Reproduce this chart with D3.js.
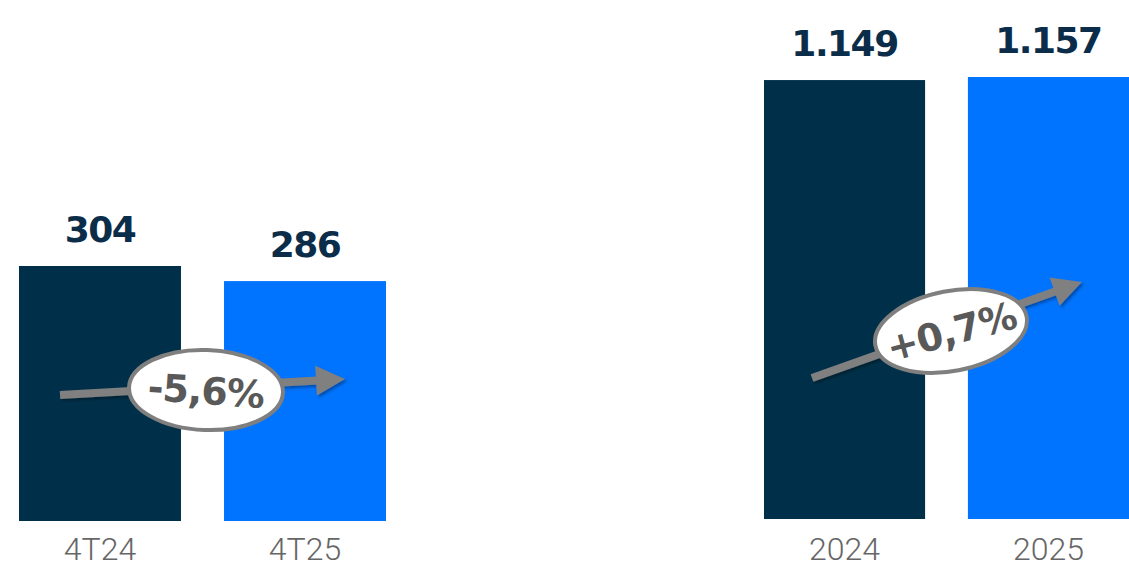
<!DOCTYPE html>
<html>
<head>
<meta charset="utf-8">
<script src="https://cdn.jsdelivr.net/npm/d3@7"></script>
<style>
  body { margin: 0; background: #fff; }
  svg { display: block; }
</style>
</head>
<body>
<div id="chart"></div>
<script>
// data
var quarterCats = ["4T24", "4T25"];
var quarterValues = [304, 286];
var quarterLabels = ["304", "286"];

var yearCats = ["2024", "2025"];
var yearValues = [1149, 1157];
var yearLabels = ["1.149", "1.157"];

var changeLabels = ["-5,6%", "+0,7%"];

var barColors = ["#003049", "#0073ff"];

var svgWidth = 1129;
var svgHeight = 569;

var svg = d3.select("#chart")
  .append("svg")
  .attr("width", svgWidth)
  .attr("height", svgHeight);

var defs = svg.append("defs");
defs.append("filter")
  .attr("id", "shadow")
  .attr("x", "-20%").attr("y", "-50%")
  .attr("width", "140%").attr("height", "200%")
  .append("feDropShadow")
  .attr("dx", 2).attr("dy", 2)
  .attr("stdDeviation", 1.5)
  .attr("flood-color", "#000")
  .attr("flood-opacity", 0.35);

// each panel gets its own scales
function drawPanel(cats, values, labels, xRange, base, top) {
  var x = d3.scaleBand()
    .domain(cats)
    .range(xRange)
    .paddingInner(0.21)
    .paddingOuter(0);

  var y = d3.scaleLinear()
    .domain([0, d3.max(values)])
    .range([base, top]);

  var g = svg.append("g");

  g.selectAll("rect")
    .data(values)
    .enter()
    .append("rect")
    .attr("x", (d, i) => x(cats[i]))
    .attr("y", d => y(d))
    .attr("width", x.bandwidth())
    .attr("height", d => base - y(d))
    .attr("fill", (d, i) => barColors[i]);

  // value labels
  g.selectAll(".val")
    .data(values)
    .enter()
    .append("text")
    .attr("class", "val")
    .attr("x", (d, i) => x(cats[i]) + x.bandwidth() / 2)
    .attr("y", d => y(d) - 24)
    .attr("text-anchor", "middle")
    .attr("font-family", "DejaVu Sans, sans-serif")
    .attr("font-weight", "bold")
    .attr("font-size", "36px")
    .attr("letter-spacing", "-1.5px")
    .attr("fill", "#0b2d4a")
    .text((d, i) => labels[i]);

  // category labels
  var xAxis = d3.axisBottom(x).tickSize(0).tickPadding(0);
  var axisG = g.append("g")
    .attr("transform", "translate(0," + 534 + ")")
    .call(xAxis);
  axisG.select(".domain").remove();
  axisG.selectAll("text")
    .attr("dy", "0.8em")
    .attr("font-family", "Roboto, sans-serif")
    .attr("font-weight", 300)
    .attr("font-size", "32px")
    .attr("fill", "#666");

  return { x: x, y: y };
}

var left = drawPanel(quarterCats, quarterValues, quarterLabels, [19, 386], 521, 266);
var right = drawPanel(yearCats, yearValues, yearLabels, [764, 1129], 519, 77);

// growth arrow with an ellipse badge
function drawArrow(x1, y1, x2, y2, cx, cy, ellRot, txtRot, label) {
  var g = svg.append("g");
  var ang = Math.atan2(y2 - y1, x2 - x1);
  var headLen = 29, headW = 15;
  var bx = x2 - headLen * Math.cos(ang);
  var by = y2 - headLen * Math.sin(ang);
  var px = -Math.sin(ang), py = Math.cos(ang);

  var arrow = g.append("g").attr("filter", "url(#shadow)");
  arrow.append("line")
    .attr("x1", x1).attr("y1", y1)
    .attr("x2", bx + 2 * Math.cos(ang)).attr("y2", by + 2 * Math.sin(ang))
    .attr("stroke", "#808080")
    .attr("stroke-width", 8);
  arrow.append("path")
    .attr("d", "M" + x2 + "," + y2 +
      "L" + (bx + px * headW) + "," + (by + py * headW) +
      "L" + (bx - px * headW) + "," + (by - py * headW) + "Z")
    .attr("fill", "#808080");

  g.append("ellipse")
    .attr("cx", cx).attr("cy", cy)
    .attr("rx", 77).attr("ry", 40)
    .attr("transform", "rotate(" + ellRot + "," + cx + "," + cy + ")")
    .attr("fill", "#fff")
    .attr("stroke", "#7f7f7f")
    .attr("stroke-width", 4);

  g.append("text")
    .attr("x", cx).attr("y", cy + 14)
    .attr("transform", "rotate(" + txtRot + "," + cx + "," + cy + ")")
    .attr("text-anchor", "middle")
    .attr("font-family", "DejaVu Sans, sans-serif")
    .attr("font-weight", "bold")
    .attr("font-size", "38px")
    .attr("letter-spacing", "-1px")
    .attr("fill", "#595959")
    .text(label);
}

var lx = left.x, rx = right.x;
drawArrow(lx(quarterCats[0]) + 41, 395, lx(quarterCats[1]) + lx.bandwidth() - 41, 379,
  206, 390, 2, 4, changeLabels[0]);
drawArrow(rx(yearCats[0]) + 48, 378, rx(yearCats[1]) + 114, 282,
  951, 331, -11, -15, changeLabels[1]);
</script>
</body>
</html>
